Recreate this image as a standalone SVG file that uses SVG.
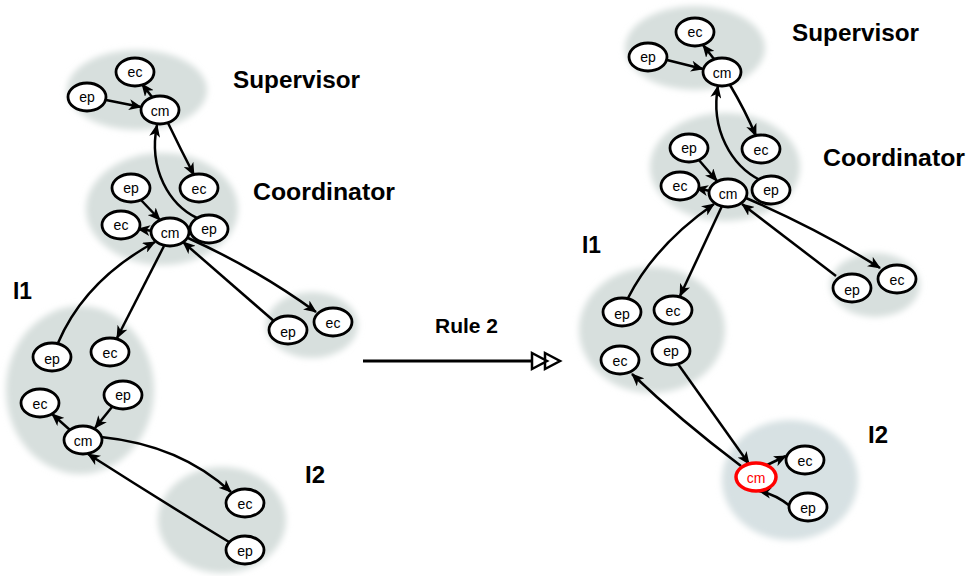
<svg xmlns="http://www.w3.org/2000/svg" width="967" height="576" viewBox="0 0 967 576">
<style>
.blob{fill:#d7dfdd;filter:url(#soft)}
.node ellipse{fill:#fff;stroke:#000;stroke-width:2.8}
.node text{font-family:"Liberation Sans",Arial,sans-serif;font-size:14px;text-anchor:middle;fill:#000}
.red ellipse{stroke:#f00;stroke-width:3.5}
.red text{fill:#f00}
.edge{fill:none;stroke:#000;stroke-width:2.5;marker-end:url(#ah)}
.title{font-family:"Liberation Sans",Arial,sans-serif;font-weight:bold;font-size:23px;fill:#000}
</style>
<defs>
<filter id="soft" x="-20%" y="-20%" width="140%" height="140%"><feGaussianBlur stdDeviation="3"/></filter>
<marker id="ah" markerUnits="userSpaceOnUse" markerWidth="13" markerHeight="11" refX="12" refY="5.5" orient="auto"><path d="M0,0 L13,5.5 L0,11 L3.5,5.5 z" fill="#000"/></marker>
</defs>
<rect width="967" height="576" fill="#fff"/>

<g id="blobs">
<ellipse class="blob" cx="137" cy="90" rx="70" ry="40"/>
<ellipse class="blob" cx="162" cy="209" rx="76" ry="56"/>
<ellipse class="blob" cx="312" cy="325" rx="46" ry="33"/>
<ellipse class="blob" cx="80" cy="390" rx="74" ry="84"/>
<ellipse class="blob" cx="222" cy="520" rx="64" ry="53"/>
<ellipse class="blob" cx="695" cy="48" rx="70" ry="42"/>
<ellipse class="blob" cx="725" cy="167" rx="75" ry="54"/>
<ellipse class="blob" cx="875" cy="285" rx="45" ry="32"/>
<ellipse class="blob" cx="652" cy="330" rx="73" ry="63"/>
<ellipse class="blob" cx="790" cy="480" rx="68" ry="60" style="fill:#d7e1e3"/>
</g>

<g id="labels">
<text class="title" x="233" y="88" textLength="127" lengthAdjust="spacingAndGlyphs">Supervisor</text>
<text class="title" x="253" y="200" textLength="142" lengthAdjust="spacingAndGlyphs">Coordinator</text>
<text class="title" x="13" y="299" textLength="19" lengthAdjust="spacingAndGlyphs">I1</text>
<text class="title" x="305" y="483" textLength="20" lengthAdjust="spacingAndGlyphs">I2</text>
<text class="title" x="792" y="41" textLength="127" lengthAdjust="spacingAndGlyphs">Supervisor</text>
<text class="title" x="823" y="166" textLength="142" lengthAdjust="spacingAndGlyphs">Coordinator</text>
<text class="title" x="582" y="253" textLength="19" lengthAdjust="spacingAndGlyphs">I1</text>
<text class="title" x="868" y="443" textLength="20" lengthAdjust="spacingAndGlyphs">I2</text>
<text class="title" x="435" y="333" style="font-size:20px" textLength="63" lengthAdjust="spacingAndGlyphs">Rule 2</text>
</g>

<g id="connectors">
<!-- left -->
<path class="edge" d="M106,100 L141,107"/>
<path class="edge" d="M152,97 L142,84"/>
<path class="edge" d="M168,123 Q181,150 194,175"/>
<path class="edge" d="M197,218 C170,205 148,170 157,125"/>
<path class="edge" d="M141,200 L160,220"/>
<path class="edge" d="M153,231 L138,229"/>
<path class="edge" d="M58,343 Q85,280 155,242"/>
<path class="edge" d="M164,246 L117,338"/>
<path class="edge" d="M275,322 L183,242"/>
<path class="edge" d="M188,238 Q255,268 316,312"/>
<path class="edge" d="M112,407 L95,428"/>
<path class="edge" d="M70,430 L52,414"/>
<path class="edge" d="M101,437 Q180,445 231,492"/>
<path class="edge" d="M229,542 Q160,500 88,454"/>
<!-- right -->
<path class="edge" d="M667,60 L703,69"/>
<path class="edge" d="M714,59 L703,45"/>
<path class="edge" d="M730,85 Q745,110 756,136"/>
<path class="edge" d="M760,180 C732,166 710,130 718,86"/>
<path class="edge" d="M698,159 L717,181"/>
<path class="edge" d="M710,191 L696,188"/>
<path class="edge" d="M628,298 Q655,245 714,204"/>
<path class="edge" d="M722,206 L680,296"/>
<path class="edge" d="M836,276 L742,204"/>
<path class="edge" d="M746,198 Q820,230 880,268"/>
<path class="edge" d="M741,466 Q680,420 632,374"/>
<path class="edge" d="M678,364 L749,464"/>
<path class="edge" d="M767,465 L786,456"/>
<path class="edge" d="M790,506 Q775,494 759,491"/>
<!-- rule arrow -->
<path d="M363,361 L532,361" stroke="#000" stroke-width="3" fill="none"/>
<path d="M532,353 L547,361 L532,369 z M545,353 L560,361 L545,369 z" stroke="#000" stroke-width="2.5" fill="#fff" stroke-linejoin="miter"/>
</g>

<g id="L_sup_ec" class="node"><ellipse cx="135" cy="72" rx="19" ry="14"/><text x="135" y="77">ec</text></g>
<g id="L_sup_ep" class="node"><ellipse cx="87" cy="97" rx="19" ry="14"/><text x="87" y="102">ep</text></g>
<g id="L_sup_cm" class="node"><ellipse cx="160" cy="110" rx="19" ry="14"/><text x="160" y="116">cm</text></g>
<g id="L_co_ec2" class="node"><ellipse cx="199" cy="188" rx="19" ry="14"/><text x="199" y="194">ec</text></g>
<g id="L_co_ep" class="node"><ellipse cx="131" cy="188" rx="19" ry="14"/><text x="131" y="193">ep</text></g>
<g id="L_co_ec" class="node"><ellipse cx="121" cy="225" rx="19" ry="14"/><text x="121" y="230">ec</text></g>
<g id="L_co_cm" class="node"><ellipse cx="170" cy="232" rx="19" ry="14"/><text x="170" y="238">cm</text></g>
<g id="L_co_ep2" class="node"><ellipse cx="209" cy="229" rx="19" ry="14"/><text x="209" y="234">ep</text></g>
<g id="L_sm_ep" class="node"><ellipse cx="288" cy="330" rx="19" ry="14"/><text x="288" y="337">ep</text></g>
<g id="L_sm_ec" class="node"><ellipse cx="333" cy="322" rx="19" ry="14"/><text x="333" y="328">ec</text></g>
<g id="L_i1_ep" class="node"><ellipse cx="52" cy="357" rx="19" ry="14"/><text x="52" y="364">ep</text></g>
<g id="L_i1_ec" class="node"><ellipse cx="110" cy="352" rx="19" ry="14"/><text x="110" y="358">ec</text></g>
<g id="L_i1_ec2" class="node"><ellipse cx="40" cy="403" rx="19" ry="14"/><text x="40" y="409">ec</text></g>
<g id="L_i1_ep2" class="node"><ellipse cx="123" cy="395" rx="19" ry="14"/><text x="123" y="400">ep</text></g>
<g id="L_i1_cm" class="node"><ellipse cx="83" cy="440" rx="19" ry="14"/><text x="83" y="446">cm</text></g>
<g id="L_i2_ec" class="node"><ellipse cx="245" cy="503" rx="19" ry="14"/><text x="245" y="509">ec</text></g>
<g id="L_i2_ep" class="node"><ellipse cx="245" cy="550" rx="19" ry="14"/><text x="245" y="556">ep</text></g>

<g id="R_sup_ec" class="node"><ellipse cx="695" cy="32" rx="19" ry="14"/><text x="695" y="37">ec</text></g>
<g id="R_sup_ep" class="node"><ellipse cx="648" cy="57" rx="19" ry="14"/><text x="648" y="62">ep</text></g>
<g id="R_sup_cm" class="node"><ellipse cx="722" cy="72" rx="19" ry="14"/><text x="722" y="78">cm</text></g>
<g id="R_co_ec2" class="node"><ellipse cx="761" cy="149" rx="19" ry="14"/><text x="761" y="155">ec</text></g>
<g id="R_co_ep" class="node"><ellipse cx="689" cy="148" rx="19" ry="14"/><text x="689" y="153">ep</text></g>
<g id="R_co_ec" class="node"><ellipse cx="680" cy="186" rx="19" ry="14"/><text x="680" y="191">ec</text></g>
<g id="R_co_cm" class="node"><ellipse cx="728" cy="193" rx="19" ry="14"/><text x="728" y="199">cm</text></g>
<g id="R_co_ep2" class="node"><ellipse cx="771" cy="190" rx="19" ry="14"/><text x="771" y="195">ep</text></g>
<g id="R_sm_ep" class="node"><ellipse cx="852" cy="288" rx="19" ry="14"/><text x="852" y="295">ep</text></g>
<g id="R_sm_ec" class="node"><ellipse cx="897" cy="279" rx="19" ry="14"/><text x="897" y="285">ec</text></g>
<g id="R_i1_ep" class="node"><ellipse cx="622" cy="312" rx="19" ry="14"/><text x="622" y="319">ep</text></g>
<g id="R_i1_ec" class="node"><ellipse cx="673" cy="310" rx="19" ry="14"/><text x="673" y="316">ec</text></g>
<g id="R_i1_ec2" class="node"><ellipse cx="620" cy="360" rx="19" ry="14"/><text x="620" y="366">ec</text></g>
<g id="R_i1_ep2" class="node"><ellipse cx="671" cy="351" rx="19" ry="14"/><text x="671" y="356">ep</text></g>
<g id="R_i2_cm" class="node red"><ellipse cx="756" cy="477" rx="20" ry="14"/><text x="756" y="483">cm</text></g>
<g id="R_i2_ec" class="node"><ellipse cx="805" cy="460" rx="19" ry="14"/><text x="805" y="466">ec</text></g>
<g id="R_i2_ep" class="node"><ellipse cx="808" cy="507" rx="19" ry="14"/><text x="808" y="513">ep</text></g>
</svg>
